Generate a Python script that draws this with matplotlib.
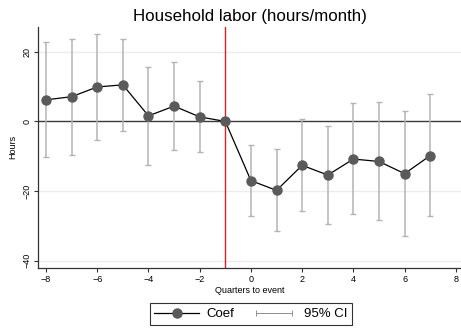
import matplotlib
matplotlib.use("Agg")
import matplotlib.pyplot as plt
from matplotlib.lines import Line2D
from matplotlib.legend_handler import HandlerLine2D

plt.rcParams['font.family'] = ['Liberation Sans', 'DejaVu Sans']

# Datos
quarters = [-8, -7, -6, -5, -4, -3, -2, -1, 0, 1, 2, 3, 4, 5, 6, 7]
coef = [6.2, 7.1, 9.9, 10.5, 1.6, 4.4, 1.3, 0.0,
        -17.0, -19.8, -12.6, -15.4, -10.8, -11.5, -15.0, -9.8]
ci_lo = [-10.2, -9.5, -5.2, -2.7, -12.6, -8.2, -8.8, 0.0,
         -27.2, -31.4, -25.7, -29.4, -26.5, -28.2, -33.0, -27.2]
ci_hi = [22.8, 23.7, 25.2, 23.8, 15.7, 17.0, 11.5, 0.0,
         -6.9, -8.0, 0.7, -1.4, 5.2, 5.5, 2.9, 7.8]
xticks = [-8, -6, -4, -2, 0, 2, 4, 6, 8]
yticks = [-40, -20, 0, 20]

W, H = 461, 328
fig = plt.figure(figsize=(W / 100, H / 100), dpi=100)
ax = fig.add_axes([38.3 / W, 60.3 / H, (W - 38.3) / W, 241 / H])

ci_col = '#b4b4b4'
# intervalos (sin el periodo de referencia)
for q, lo, hi in zip(quarters, ci_lo, ci_hi):
    if q == -1:
        continue
    ax.errorbar([q], [(lo + hi) / 2], yerr=[[(hi - lo) / 2], [(hi - lo) / 2]],
                fmt='none', ecolor=ci_col, elinewidth=1.1, capsize=2.5,
                capthick=1.0, zorder=2)

for yv in [-40, -20, 20]:
    ax.axhline(yv, color='#ececec', lw=1.0, zorder=0)
ax.axhline(0, color='#3a3a3a', lw=1.0, zorder=1)
ax.axvline(-1, color='#e02020', lw=1.0, zorder=1)

ax.plot(quarters, coef, color='black', lw=0.9, marker='o', markersize=6.5,
        markerfacecolor='#5a5a5a', markeredgecolor='#5a5a5a', zorder=3)

ax.set_xlim(-8.3, 8.2)
ax.set_ylim(-42.0, 27.2)
ax.set_xticks(xticks)
ax.set_xticklabels(['\u2212' + str(-t) if t < 0 else str(t) for t in xticks],
                   fontsize=6.5)
ax.set_yticks(yticks)
ax.set_yticklabels(['\u2212' + str(-t) if t < 0 else str(t) for t in yticks],
                   fontsize=6.5, rotation=90, va='center')
ax.tick_params(length=3, width=0.8, color='#333333', pad=2)
for s in ['top', 'right']:
    ax.spines[s].set_visible(False)
for s in ['left', 'bottom']:
    ax.spines[s].set_color('#333333')
    ax.spines[s].set_linewidth(0.9)

ax.set_xlabel('Quarters to event', fontsize=6.5, labelpad=2)
ax.set_ylabel('Hours', fontsize=6.5, labelpad=4)
fig.text(250 / W, 1 - 16 / H, 'Household labor (hours/month)', fontsize=12.2,
         ha='center', va='center')

h_coef = Line2D([], [], color='black', lw=0.9, marker='o', markersize=6.5,
                markerfacecolor='#5a5a5a', markeredgecolor='#5a5a5a')
h_ci = Line2D([], [], color='#909090', lw=0.7, marker='|', markersize=5,
              markeredgewidth=0.7)
fig.legend([h_coef, h_ci], ['Coef', '95% CI'], ncol=2, loc='center',
           bbox_to_anchor=(250.8 / W, 14 / H), fontsize=9.5, frameon=True,
           fancybox=False, edgecolor='black', handlelength=3.4,
           columnspacing=1.3, handletextpad=0.55, borderpad=0.35,
           handler_map={h_coef: HandlerLine2D(numpoints=1),
                        h_ci: HandlerLine2D(numpoints=2)}).get_frame().set_linewidth(0.8)

fig.savefig('out.png', dpi=100)
